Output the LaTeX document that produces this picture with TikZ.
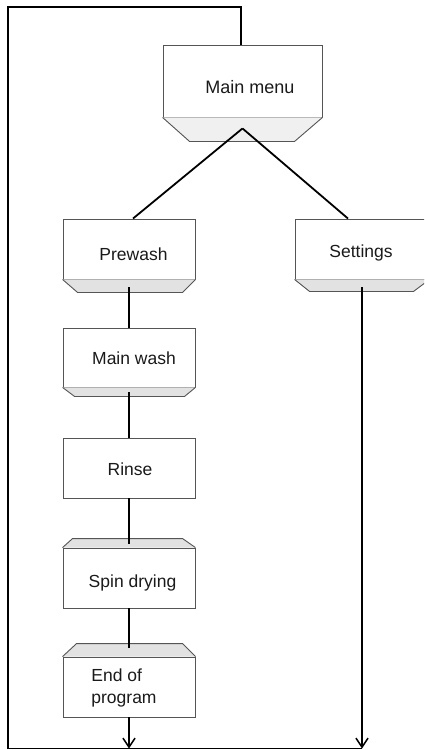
\documentclass[tikz,border=0pt]{standalone}
\usepackage{fontspec}
\setmainfont{Liberation Sans}
\usetikzlibrary{arrows.meta}
\definecolor{boxgray}{HTML}{555555}
\definecolor{trapgray}{HTML}{E2E2E2}
\definecolor{traplight}{HTML}{F0F0F0}
\definecolor{textgray}{HTML}{1A1A1A}
\begin{document}
\begin{tikzpicture}[x=1pt,y=-1pt,
  box/.style={draw=boxgray,line width=0.9pt,fill=white,minimum width=132pt,minimum height=60pt,inner sep=0pt},
  txt/.style={font=\fontsize{17.5}{22}\selectfont,text=textgray,inner sep=0pt},
  trap/.style={draw=boxgray,line width=0.9pt,fill=trapgray,line join=miter},
  conn/.style={line width=1.8pt,black},
  arr/.style={conn,-{Straight Barb[length=9pt,width=12pt,line width=1.5pt]}}]
\useasboundingbox (0,0) rectangle (424,750);
\clip (0,0) rectangle (424,750);

% boxes
\node[box,minimum width=159pt,minimum height=72pt,
  label={[txt,font=\fontsize{18}{22}\selectfont,xshift=7.5pt,yshift=-6pt,name=mmt]center:Main menu}] (mm) at (242.5,81) {};
\draw[trap,fill=traplight] (mm.south west) -- ++(27,24) -- ++(105,0) -- (mm.south east);

\node[box,label={[txt,xshift=4.5pt,yshift=-5pt,name=pwt]center:Prewash}] (pw) at (129,249) {};
\draw[trap] (pw.south west) -- ++(15,13) -- ++(105,0) -- (pw.south east);

\node[box,minimum width=134pt,label={[txt,xshift=-1pt,yshift=-4pt,name=stt]center:Settings}] (st) at (362,249) {};
\draw[trap] (st.south west) -- ++(15,12) -- ++(104,0) -- (st.south east);

\node[box,minimum height=59pt,label={[txt,xshift=5pt,yshift=-0.5pt,name=mwt]center:Main wash}] (mw) at (129,357.5) {};
\draw[trap] (mw.south west) -- ++(12,9) -- ++(110,0) -- (mw.south east);

\node[box,label={[txt,xshift=1pt,yshift=-1pt,name=rit]center:Rinse}] (ri) at (129,468) {};

\node[box,label={[txt,xshift=3.5pt,yshift=-5pt,name=spt]center:Spin drying}] (sp) at (129,578) {};
\draw[trap] (sp.north west) -- ++(10,-9) -- ++(110,0) -- (sp.north east);

\node[box,label={[txt,align=left,xshift=-5pt,yshift=-0.5pt,name=ent]center:End of\\program}] (en) at (129,687) {};
\draw[trap] (en.north west) -- ++(14,-13) -- ++(106,0) -- (en.north east);

% loop coordinates
\coordinate (loopbr) at (362,748.5);
\coordinate (loopbl) at (8,748.5);
\coordinate (looptl) at (8,7);
\coordinate (looptr) at (241,7);

% connectors
\draw[conn] ([yshift=-11pt]mm.south) -- ([xshift=4pt]pw.north);
\draw[conn] ([yshift=-11pt]mm.south) -- ([xshift=-14pt]st.north);
\draw[conn] ([yshift=-8pt]pw.south) -- (pw.south |- mw.north);
\draw[conn] ([yshift=-5pt]mw.south) -- (mw.south |- ri.north);
\draw[conn] (ri.south) -- ([yshift=4pt]sp.north);
\draw[conn] (sp.south) -- ([yshift=9pt]en.north);
\draw[arr] (en.south) -- (en.south |- loopbl);
\draw[arr] ([yshift=-8pt]st.south) -- (loopbr);
\draw[conn,line join=miter] (loopbr) -- (loopbl) -- (looptl) -- (looptr) -- (looptr |- mm.north);
\end{tikzpicture}
\end{document}
